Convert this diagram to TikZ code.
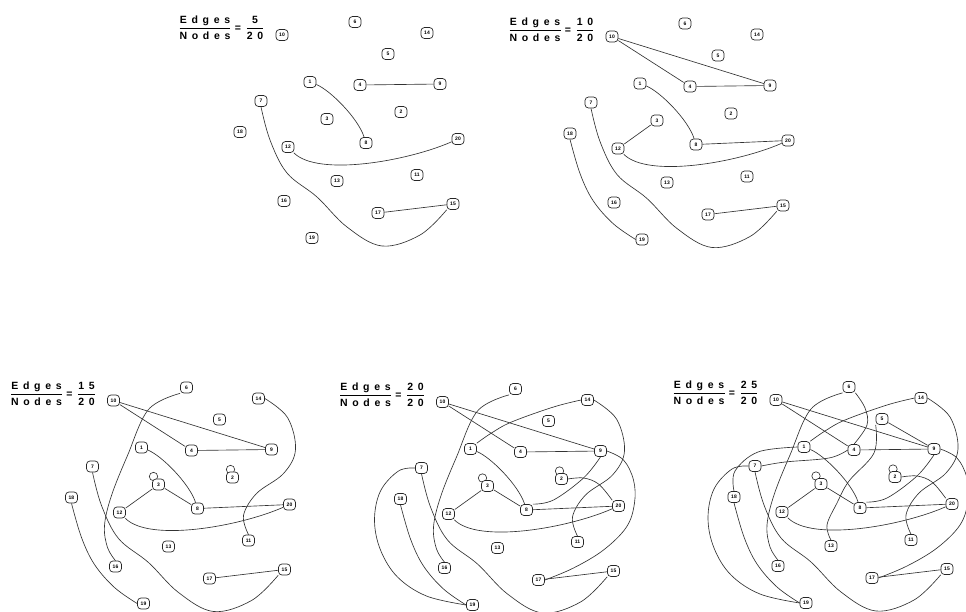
\documentclass[tikz,border=0pt]{standalone}
\usepackage{fontspec}
\setmainfont{Liberation Sans}
\newfontfamily\tfont[LetterSpace=45]{Liberation Sans}
\usetikzlibrary{backgrounds}

\tikzset{
  vx/.style={draw=black!85, fill=white, rounded corners=3.5pt, minimum width=12pt,
    minimum height=11pt, inner sep=0pt, line width=0.7pt, font=\fontsize{5}{5}\selectfont\bfseries},
  ed/.style={draw=black!80, line width=0.65pt},
  frac/.style={inner sep=0pt, font=\fontsize{10.5}{11}\selectfont\tfont\bfseries},
  sm/.style={smooth, tension=0.6}
}

\newcommand\TF[2]{$\displaystyle\frac{\hbox{#1}\rule[-2pt]{0pt}{2pt}}{\hbox{\rule{0pt}{10pt}#2}}$}

\newcommand\gnodes[1]{%
  \node[vx] (#1a) at (282,35) {10};
  \node[vx] (#1b) at (355,22) {6};
  \node[vx] (#1c) at (427,33) {14};
  \node[vx] (#1d) at (388,54) {5};
  \node[vx] (#1e) at (310,82) {1};
  \node[vx] (#1f) at (360,85) {4};
  \node[vx] (#1g) at (440,84) {9};
  \node[vx] (#1h) at (261,101) {7};
  \node[vx] (#1i) at (327,119) {3};
  \node[vx] (#1j) at (401,112) {2};
  \node[vx] (#1k) at (240,132) {18};
  \node[vx] (#1l) at (288,147) {12};
  \node[vx] (#1m) at (366,143) {8};
  \node[vx] (#1n) at (458,139) {20};
  \node[vx] (#1o) at (337,181) {13};
  \node[vx] (#1p) at (417,175) {11};
  \node[vx] (#1q) at (284,201) {16};
  \node[vx] (#1r) at (378,213) {17};
  \node[vx] (#1s) at (453,204) {15};
  \node[vx] (#1t) at (312,238) {19};
}

\newcommand\gtitle[2]{%
  \node[frac] (#1tl) at ([shift={(-77,-7)}]#1a.center) {\TF{Edges}{Nodes}};
  \node[frac] (#1eq) at ([shift={(-44,-6)}]#1a.center) {=};
  \node[frac] (#1tr) at ([shift={(-27,-7)}]#1a.center) {\TF{#2}{20}};
}

% edges, level 1 (5)
\newcommand\edgesI[1]{%
  \draw[ed] (#1e) .. controls +(20,8) and +(-8,-25) .. (#1m);
  \draw[ed] (#1f) -- (#1g);
  \draw[ed] (#1l) .. controls +(30,30) and +(-50,22) .. (#1n);
  \draw[ed] plot[sm] coordinates {(#1h.south) (270,140) (287,173) (317,197) (347,227) (382,246) (420,235) (#1s.south west)};
  \draw[ed] (#1r) -- (#1s);
}
% level 2 (+5)
\newcommand\edgesII[1]{%
  \draw[ed] (#1a) -- (#1f);
  \draw[ed] (#1a) -- (#1g);
  \draw[ed] (#1i) -- (#1l);
  \draw[ed] (#1m) -- (#1n);
  \draw[ed] plot[sm] coordinates {(#1k.south) (250,172) (263,199) (283,222) (#1t.west)};
}
% level 3 (+5)
\newcommand\edgesIII[1]{%
  \draw[ed] plot[sm] coordinates {(#1b.south west) (317,44) (296,90) (280,130) (273,160) (276,182) (#1q.north)};
  \draw[ed] plot[sm] coordinates {(#1c.east) (456,52) (464,84) (452,108) (425,128) (412,150) (#1p.north)};
  \draw[ed] (#1i) -- (#1m);
  \draw[ed] ([shift={(-5,-8)}]#1i.center) circle[radius=4.2];
  \draw[ed] ([shift={(-2,-8)}]#1j.center) circle[radius=4.2];
}
% level 4 (+5)
\newcommand\edgesIV[1]{%
  \draw[ed] plot[sm] coordinates {(#1h.west) (238,104) (220,124) (214,153) (220,183) (237,210) (266,229) (#1t.west)};
  \draw[ed] plot[sm] coordinates {(#1e.north east) (331,66) (351,55) (393,40) (#1c.west)};
  \draw[ed] plot[sm] coordinates {(#1m.north east) (393,133) (423,111) (#1g.south)};
  \draw[ed] plot[sm] coordinates {(#1j.east) (423,111) (438,117) (#1n.north west)};
  \draw[ed] plot[sm] coordinates {(#1g.east) (463,93) (473,113) (474,136) (466,160) (443,183) (413,201) (#1r.east)};
}
% level 5 (+5)
\newcommand\edgesV[1]{%
  \draw[ed] plot[sm] coordinates {(#1k.north) (241,106) (264,87) (#1e.west)};
  \draw[ed] plot[sm] coordinates {(#1b.south east) (371,43) (373,60) (#1f.north)};
  \draw[ed] plot[sm] coordinates {(#1d.south west) (380,88) (355,116) (343,138) (333,160) (#1o.north)};
  \draw[ed] plot[sm] coordinates {(#1h.east) (291,97) (335,93) (#1f.west)};
  \draw[ed] (#1d) -- (#1g);
}

\begin{document}
\begin{tikzpicture}[x=1pt, y=-1pt]
  \useasboundingbox (0,0) rectangle (966,611);

  \begin{scope}[shift={(0,0)}]
    \gnodes{u} \gtitle{u}{5}
    \begin{pgfonlayer}{background}\edgesI{u}\end{pgfonlayer}
  \end{scope}

  \begin{scope}[shift={(330,1.5)}]
    \gnodes{v} \gtitle{v}{10}
    \begin{pgfonlayer}{background}\edgesI{v}\edgesII{v}\end{pgfonlayer}
  \end{scope}

  \begin{scope}[shift={(-168.5,365.5)}]
    \gnodes{w} \gtitle{w}{15}
    \begin{pgfonlayer}{background}\edgesI{w}\edgesII{w}\edgesIII{w}\end{pgfonlayer}
  \end{scope}

  \begin{scope}[shift={(160.5,367)}]
    \gnodes{x} \gtitle{x}{20}
    \begin{pgfonlayer}{background}\edgesI{x}\edgesII{x}\edgesIII{x}\edgesIV{x}\end{pgfonlayer}
  \end{scope}

  \begin{scope}[shift={(494,365)}]
    \gnodes{y} \gtitle{y}{25}
    \begin{pgfonlayer}{background}\edgesI{y}\edgesII{y}\edgesIII{y}\edgesIV{y}\edgesV{y}\end{pgfonlayer}
  \end{scope}
\end{tikzpicture}
\end{document}
